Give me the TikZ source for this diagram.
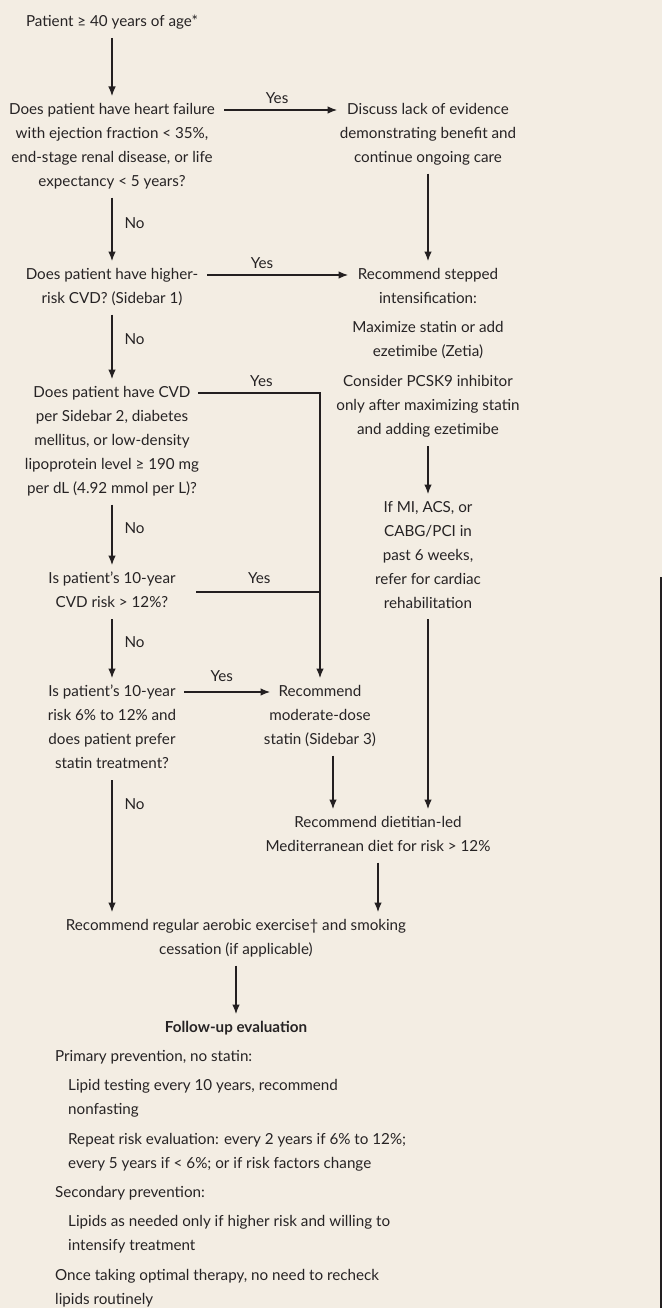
\documentclass[tikz,border=0pt]{standalone}
\usepackage{fontspec}
\setmainfont{Lato}
\usetikzlibrary{arrows.meta}
\definecolor{bg}{HTML}{F3EDE3}
\definecolor{txt}{HTML}{262324}
\definecolor{ln}{HTML}{231F20}
\newcommand{\mystr}{\rule[-4pt]{0pt}{15pt}}
\begin{document}
\begin{tikzpicture}[x=1pt,y=-1pt,
 box/.style={align=center, inner xsep=4pt, inner ysep=7pt, anchor=north, font=\fontsize{15.2}{24}\selectfont, text=txt, execute at begin node=\mystr, execute at end node=\mystr},
 arr/.style={draw=ln, line width=1.1pt, -{Latex[length=9.5pt,width=7.5pt]}},
 con/.style={draw=ln, line width=1.1pt},
 lbl/.style={font=\fontsize{15.2}{16}\selectfont, text=txt, inner sep=0pt, anchor=base},
 no/.style={lbl, anchor=base west, xshift=12pt, yshift=-4pt}]
\useasboundingbox (0,0) rectangle (662,1308);
\fill[bg] (0,0) rectangle (662,1308);

\node[box] (n1) at (112,8) {Patient ≥ 40 years of age*};
\node[box] (n2) at (112,96) {Does patient have heart failure\\with ejection fraction < 35\%,\\end-stage renal disease, or life\\expectancy < 5 years?};
\node[box] (n3) at (428,96) {Discuss lack of evidence\\demonstrating benefit and\\continue ongoing care};
\node[box] (n4) at (112,261) {Does patient have higher-\\risk CVD? (Sidebar 1)};
\node[box] (n5) at (428,261) {Recommend stepped\\intensification:\\[5.5pt]Maximize statin or add\\ezetimibe (Zetia)\\[6pt]Consider PCSK9 inhibitor\\only after maximizing statin\\and adding ezetimibe};
\node[box] (n6) at (112,379) {Does patient have CVD\\per Sidebar 2, diabetes\\mellitus, or low-density\\lipoprotein level ≥ 190 mg\\per dL (4.92 mmol per L)?};
\node[box] (n7) at (112,565) {Is patient’s 10-year\\CVD risk > 12\%?};
\node[box] (n8) at (112,678) {Is patient’s 10-year\\risk 6\% to 12\% and\\does patient prefer\\statin treatment?};
\node[box] (n9) at (320,678) {Recommend\\moderate-dose\\statin (Sidebar 3)};
\node[box] (n10) at (428,494) {If MI, ACS, or\\CABG/PCI in\\past 6 weeks,\\refer for cardiac\\rehabilitation};
\node[box] (n11) at (378,809) {Recommend dietitian-led\\Mediterranean diet for risk > 12\%};
\node[box] (n12) at (236,912) {Recommend regular aerobic exercise† and smoking\\cessation (if applicable)};
\node[box] (n13) at (236,1014) {\textbf{Follow-up evaluation}};
\node[box, align=left, anchor=north west, inner xsep=0pt] (n14) at (55,1043) {Primary prevention, no statin:\\[5pt]
\hspace*{13pt}Lipid testing every 10 years, recommend\\
\hspace*{13pt}nonfasting\\[6pt]
\hspace*{13pt}Repeat risk evaluation: every 2 years if 6\% to 12\%;\\
\hspace*{13pt}every 5 years if < 6\%; or if risk factors change\\[5pt]
Secondary prevention:\\[5pt]
\hspace*{13pt}Lipids as needed only if higher risk and willing to\\
\hspace*{13pt}intensify treatment\\[6pt]
Once taking optimal therapy, no need to recheck\\
lipids routinely};

\coordinate (y4) at ([yshift=-27pt]n7.north);
\coordinate (c9) at ([xshift=13pt]n9.south);

\draw[arr] (n1.south) -- (n2.north);
\draw[arr] ([xshift=112pt,yshift=-14pt]n2.north) -- node[lbl,pos=0.47,yshift=6pt]{Yes} ([xshift=-91pt,yshift=-14pt]n3.north);
\draw[arr] (n2.south) -- node[no,pos=0.42]{No} (n4.north);
\draw[arr] (n3.south) -- (n5.north);
\draw[arr] ([xshift=95pt,yshift=-14pt]n4.north) -- node[lbl,pos=0.39,yshift=7pt]{Yes} ([xshift=-80pt,yshift=-14pt]n5.north);
\draw[arr] (n4.south) -- node[no,pos=0.4]{No} (n6.north);
\draw[arr] ([xshift=86pt,yshift=-14pt]n6.north) -| node[lbl,pos=0.26,yshift=7pt]{Yes} (n9.north);
\draw[arr] (n5.south) -- (n10.north);
\draw[arr] (n6.south) -- node[no,pos=0.41]{No} (n7.north);
\draw[con] ([xshift=84pt]y4) -- node[lbl,pos=0.51,yshift=9pt]{Yes} (y4 -| n9.north);
\draw[arr] (n7.south) -- node[no,pos=0.41]{No} (n8.north);
\draw[arr] ([xshift=72pt,yshift=-14pt]n8.north) -- node[lbl,pos=0.44,yshift=11pt]{Yes} ([xshift=-50pt,yshift=-14pt]n9.north);
\draw[arr] (n10.south) -- (n10.south |- n11.north);
\draw[arr] (c9) -- (c9 |- n11.north);
\draw[arr] (n11.south) -- (n11.south |- n12.north);
\draw[arr] (n8.south) -- node[no,pos=0.19]{No} (n8.south |- n12.north);
\draw[arr] (n12.south) -- (n13.north);

\draw[ln, line width=2pt] (661,577) -- (661,1308);
\end{tikzpicture}
\end{document}
